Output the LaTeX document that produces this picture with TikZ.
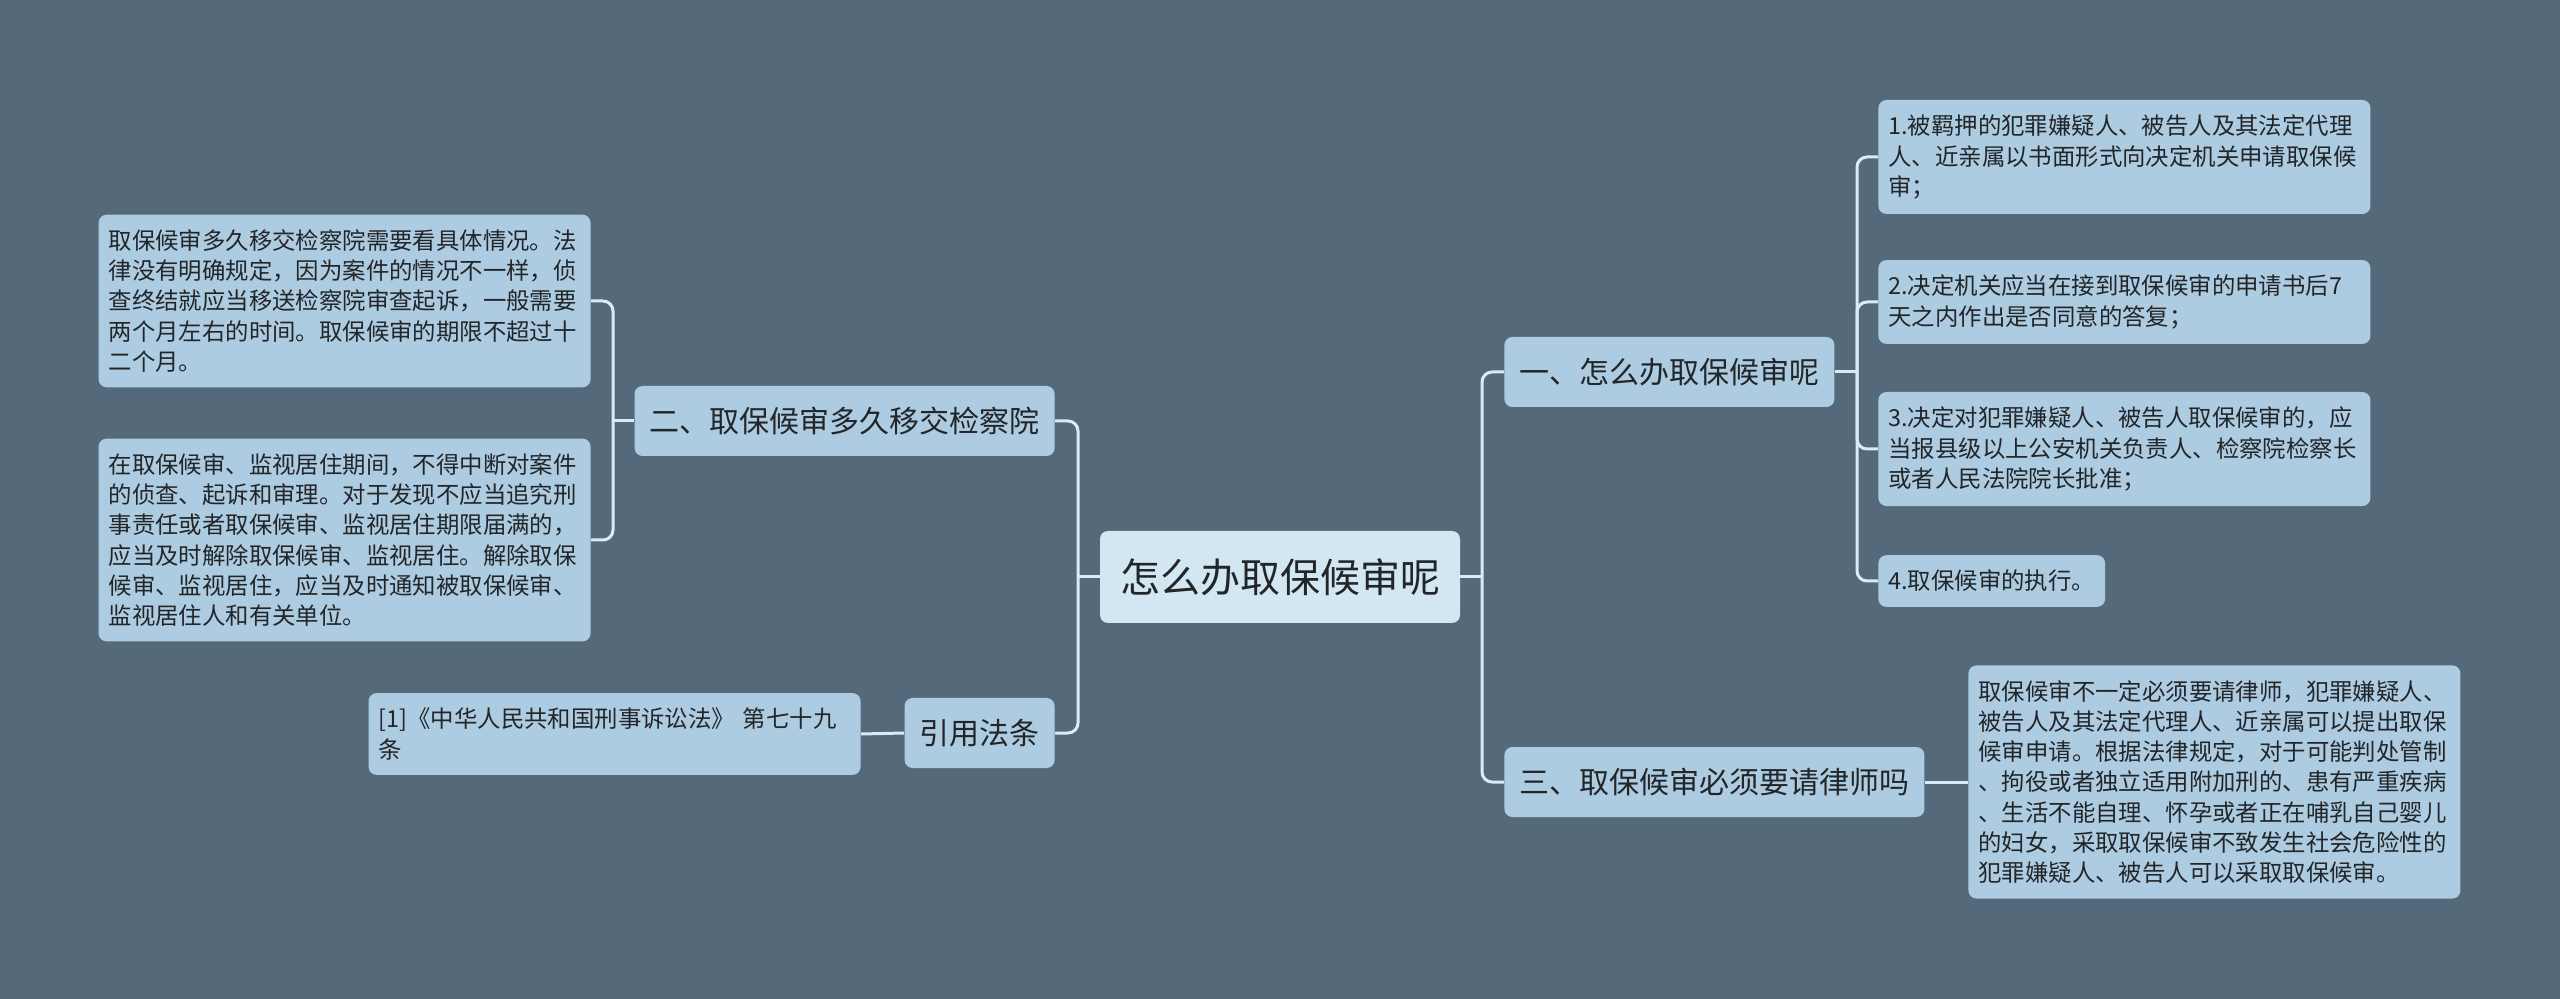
\documentclass[tikz,border=0pt]{standalone}
\usepackage{fontspec}
\setmainfont{Noto Sans CJK SC}
\definecolor{fond}{HTML}{546A7A}
\definecolor{boite}{HTML}{ADCBE1}
\definecolor{centre}{HTML}{D3E7F3}
\definecolor{trait}{HTML}{D8EBF6}
\definecolor{encre}{HTML}{222629}
\begin{document}
\begin{tikzpicture}[x=0.5pt,y=-0.5pt,
    racine/.style={fill=centre,rounded corners=4pt,text=encre,font=\fontsize{20}{24}\selectfont,minimum width=180pt,minimum height=46pt},
    branche/.style={fill=boite,rounded corners=4pt,text=encre,font=\fontsize{15}{18}\selectfont,inner xsep=7.5pt,minimum height=35pt},
    feuille/.style={fill=boite,rounded corners=4pt,text=encre,font=\fontsize{11.7}{15.1}\selectfont,align=left,inner xsep=5pt,inner ysep=7.5pt},
    large/.style={feuille,text width=236pt},
    lien/.style={draw=trait,line width=1.5pt,rounded corners=5pt}]
    \useasboundingbox[fill=fond] (0,0) rectangle (2560,999);
    \node[racine] (R) at (1280,577) {怎么办取保候审呢};
    \node[branche,anchor=west] (B1) at (1504,372) {一、怎么办取保候审呢};
    \node[branche,anchor=west] (B3) at (1504,782) {三、取保候审必须要请律师吗};
    \node[branche,anchor=east] (B2) at (1055,421) {二、取保候审多久移交检察院};
    \node[branche,anchor=east] (B4) at (1055,733) {引用法条};
    \node[large,anchor=west] (L1) at (1878,157) {1.被羁押的犯罪嫌疑人、被告人及其法定代理\\人、近亲属以书面形式向决定机关申请取保候\\审；};
    \node[large,anchor=west] (L2) at (1878,302) {2.决定机关应当在接到取保候审的申请书后7\\天之内作出是否同意的答复；};
    \node[large,anchor=west] (L3) at (1878,449) {3.决定对犯罪嫌疑人、被告人取保候审的，应\\当报县级以上公安机关负责人、检察院检察长\\或者人民法院院长批准；};
    \node[feuille,anchor=west] (L4) at (1878,581) {4.取保候审的执行。};
    \node[large,anchor=west] (L5) at (1968,782) {取保候审不一定必须要请律师，犯罪嫌疑人、\\被告人及其法定代理人、近亲属可以提出取保\\候审申请。根据法律规定，对于可能判处管制\\、拘役或者独立适用附加刑的、患有严重疾病\\、生活不能自理、怀孕或者正在哺乳自己婴儿\\的妇女，采取取保候审不致发生社会危险性的\\犯罪嫌疑人、被告人可以采取取保候审。};
    \node[large,anchor=east] (G1) at (591,301) {取保候审多久移交检察院需要看具体情况。法\\律没有明确规定，因为案件的情况不一样，侦\\查终结就应当移送检察院审查起诉，一般需要\\两个月左右的时间。取保候审的期限不超过十\\二个月。};
    \node[large,anchor=east] (G2) at (591,540) {在取保候审、监视居住期间，不得中断对案件\\的侦查、起诉和审理。对于发现不应当追究刑\\事责任或者取保候审、监视居住期限届满的，\\应当及时解除取保候审、监视居住。解除取保\\候审、监视居住，应当及时通知被取保候审、\\监视居住人和有关单位。};
    \node[large,anchor=east] (G3) at (861,734) {[1]《中华人民共和国刑事诉讼法》 第七十九\\条};
    \coordinate (RD) at (1482,577);
    \coordinate (RG) at (1078,577);
    \coordinate (D1) at (1857,372);
    \coordinate (D2) at (613,421);
    \draw[lien] (R.east) -- (RD);
    \draw[lien] (RD) |- (B1.west);
    \draw[lien] (RD) |- (B3.west);
    \draw[lien] (R.west) -- (RG);
    \draw[lien] (RG) |- (B2.east);
    \draw[lien] (RG) |- (B4.east);
    \draw[lien] (B1.east) -- (D1);
    \foreach \f in {L1,L2,L3,L4} \draw[lien] (D1) |- (\f.west);
    \draw[lien] (B2.west) -- (D2);
    \draw[lien] (D2) |- (G1.east);
    \draw[lien] (D2) |- (G2.east);
    \draw[lien] (B3.east) -- (L5.west);
    \draw[lien] (B4.west) -- (G3.east);
\end{tikzpicture}
\end{document}
